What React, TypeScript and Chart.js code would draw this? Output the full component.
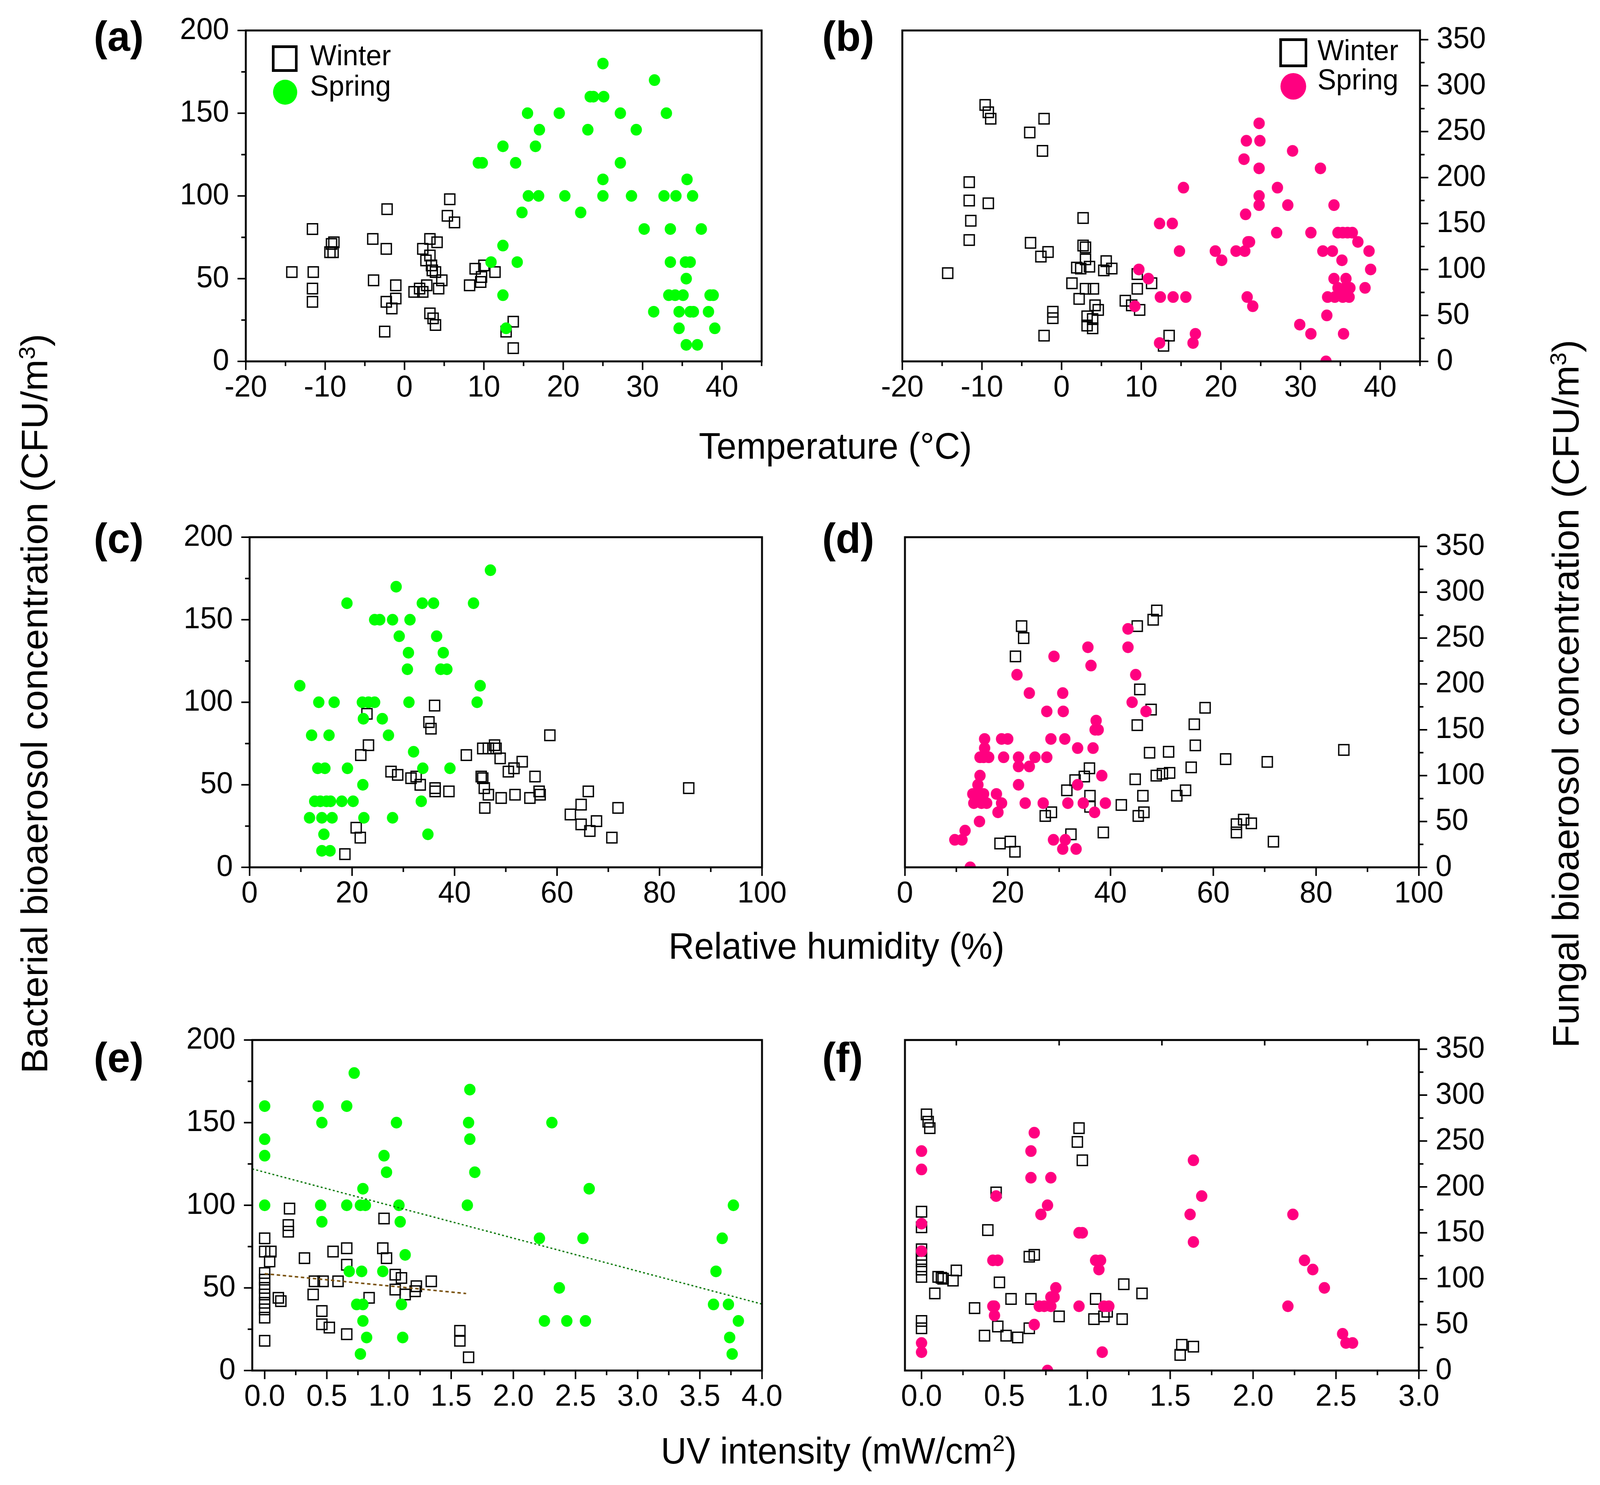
import { useEffect, useRef, useState } from "react";
import Chart from "chart.js/auto";

type Pt = [number, number];

// --- Temperature vs bacteria (a) ---
const tempWinterBac: Pt[] = [
  [-14.2, 54], [-11.6, 80], [-11.5, 54], [-11.6, 44], [-11.6, 36], [-9.4, 66], [-9.0, 66], [-9.2, 71],
  [-8.9, 72], [-4.0, 74], [-3.9, 49], [-2.3, 68], [-2.2, 92], [-2.5, 18], [-2.3, 36], [-1.6, 32],
  [-1.1, 38], [-1.1, 46], [1.2, 42], [1.9, 44], [2.3, 42], [2.3, 68], [2.7, 61], [2.8, 46],
  [3.2, 74], [3.2, 64], [3.4, 58], [3.5, 55], [3.9, 54], [4.1, 72], [4.3, 44], [4.7, 49],
  [3.2, 29], [3.6, 26], [3.9, 22], [5.7, 98], [5.4, 88], [6.3, 84], [8.2, 46], [8.9, 56],
  [9.7, 51], [9.6, 48], [10.0, 58], [11.4, 54], [12.8, 18], [13.7, 24], [13.7, 8],
];
const tempSpringBac: Pt[] = [
  [25.0, 180], [31.5, 170], [23.4, 160], [23.8, 160], [25.1, 160], [15.5, 150], [19.5, 150], [27.2, 150],
  [33.0, 150], [17.0, 140], [23.1, 140], [29.2, 140], [12.4, 130], [16.5, 130], [9.3, 120], [9.8, 120],
  [14.0, 120], [27.2, 120], [25.0, 110], [35.6, 110], [15.6, 100], [16.9, 100], [20.2, 100], [25.0, 100],
  [28.6, 100], [32.7, 100], [34.2, 100], [36.3, 100], [14.8, 90], [22.2, 90], [30.2, 80], [33.5, 80],
  [37.4, 80], [12.4, 70], [10.9, 60], [14.2, 60], [33.5, 60], [35.4, 60], [36.0, 60], [35.5, 50],
  [12.4, 40], [33.3, 40], [34.1, 40], [35.1, 40], [38.5, 40], [38.9, 40], [31.4, 30], [34.6, 30],
  [36.0, 30], [36.4, 30], [38.3, 30], [12.8, 20], [34.6, 20], [39.1, 20], [35.5, 10], [36.9, 10],
];

// --- Temperature vs fungi (b) ---
const tempWinterFun: Pt[] = [
  [-9.6, 279], [-9.2, 271], [-8.9, 264], [-2.2, 264], [-4.0, 249], [-2.4, 229], [-11.6, 195], [-11.6, 175],
  [-9.2, 172], [-11.4, 153], [-11.6, 132], [-14.3, 96], [-3.9, 129], [-1.7, 119], [-2.6, 114], [2.7, 156],
  [2.7, 126], [3.0, 124], [3.0, 111], [1.9, 102], [2.4, 101], [3.5, 103], [5.6, 109], [5.3, 99],
  [6.3, 101], [1.3, 85], [3.0, 79], [4.0, 79], [2.2, 68], [4.2, 61], [4.6, 56], [3.2, 49],
  [3.9, 46], [3.2, 39], [3.9, 36], [-1.1, 54], [-1.1, 47], [-2.2, 28], [9.5, 95], [11.3, 85],
  [9.5, 79], [8.0, 66], [8.8, 61], [9.8, 56], [13.5, 28], [12.8, 17],
];
const tempSpringFun: Pt[] = [
  [24.8, 259], [23.2, 240], [24.9, 240], [29.0, 229], [22.9, 220], [24.8, 210], [32.5, 210], [15.3, 189],
  [27.1, 189], [24.8, 180], [24.8, 170], [28.4, 170], [34.2, 170], [23.1, 160], [12.3, 150], [13.9, 150],
  [23.4, 130], [23.6, 130], [27.0, 140], [31.3, 140], [34.7, 140], [35.3, 140], [35.9, 140], [36.5, 140],
  [37.2, 130], [14.8, 120], [19.3, 120], [21.9, 120], [23.0, 120], [32.8, 120], [34.0, 120], [38.6, 120],
  [20.1, 110], [35.2, 110], [9.7, 100], [38.8, 100], [10.9, 90], [34.2, 90], [35.7, 90], [34.7, 80],
  [35.6, 80], [36.2, 80], [38.1, 80], [12.4, 70], [14.0, 70], [15.6, 70], [23.3, 70], [33.4, 70],
  [34.3, 70], [35.3, 70], [36.1, 70], [9.2, 60], [24.0, 60], [33.3, 50], [29.9, 40], [31.3, 30],
  [35.4, 30], [16.8, 30], [16.5, 20], [12.3, 20], [33.2, 0],
];

// --- Relative humidity vs bacteria (c) ---
const rhWinterBac: Pt[] = [
  [36.1, 98], [22.9, 93], [35.0, 88], [35.4, 84], [58.6, 80], [23.2, 74], [21.7, 68], [42.3, 68],
  [45.5, 72], [46.6, 72], [47.8, 74], [48.1, 72], [48.9, 66], [53.2, 64], [51.6, 60], [50.5, 58],
  [27.6, 58], [28.9, 56], [31.5, 54], [32.5, 55], [33.3, 50], [36.2, 48], [36.2, 46], [38.9, 46],
  [45.2, 55], [45.5, 54], [45.8, 48], [46.6, 44], [49.1, 42], [51.8, 44], [54.7, 42], [55.7, 55],
  [56.5, 46], [56.7, 44], [45.9, 36], [66.1, 46], [64.7, 38], [62.6, 32], [64.7, 26], [66.4, 22],
  [67.7, 28], [70.7, 18], [71.9, 36], [85.7, 48], [20.8, 24], [21.6, 18], [18.6, 8],
];
const rhSpringBac: Pt[] = [
  [47.0, 180], [28.6, 170], [19.0, 160], [33.7, 160], [35.9, 160], [43.7, 160], [24.4, 150], [25.4, 150],
  [27.9, 150], [31.3, 150], [29.2, 140], [36.5, 140], [31.0, 130], [37.8, 130], [30.8, 120], [37.3, 120],
  [38.5, 120], [9.8, 110], [45.0, 110], [13.5, 100], [16.5, 100], [22.0, 100], [23.2, 100], [24.4, 100],
  [31.1, 100], [44.4, 100], [22.2, 90], [25.9, 90], [12.1, 80], [15.5, 80], [27.1, 80], [32.0, 70],
  [13.3, 60], [14.7, 60], [19.1, 60], [33.8, 60], [39.1, 60], [22.1, 50], [12.7, 40], [13.8, 40],
  [15.0, 40], [15.8, 40], [18.0, 40], [20.2, 40], [33.5, 40], [11.7, 30], [14.1, 30], [16.1, 30],
  [22.3, 30], [27.9, 30], [14.5, 20], [34.8, 20], [14.1, 10], [15.7, 10],
];

// --- Relative humidity vs fungi (d) ---
const rhWinterFun: Pt[] = [
  [49.0, 280], [48.3, 270], [45.2, 263], [22.7, 263], [23.1, 250], [21.5, 230], [45.7, 194], [47.9, 172],
  [58.4, 174], [56.3, 156], [45.2, 155], [56.5, 133], [85.4, 128], [47.6, 125], [51.3, 126], [62.4, 118],
  [70.5, 115], [55.7, 109], [35.9, 108], [48.9, 100], [50.1, 102], [51.5, 103], [44.8, 96], [34.9, 99],
  [33.1, 95], [31.5, 84], [54.6, 84], [52.9, 78], [46.3, 78], [36.0, 78], [36.0, 66], [42.1, 68],
  [28.5, 60], [27.3, 56], [46.5, 60], [45.4, 56], [65.9, 52], [64.5, 47], [67.4, 48], [64.5, 38],
  [38.6, 38], [32.3, 36], [71.7, 28], [18.5, 26], [20.5, 28], [21.4, 17],
];
const rhSpringFun: Pt[] = [
  [43.4, 260], [35.6, 240], [43.4, 240], [29.0, 230], [36.2, 220], [21.8, 210], [44.9, 210], [24.2, 190],
  [30.7, 190], [44.2, 180], [27.6, 170], [30.8, 170], [46.9, 170], [37.2, 160], [37.0, 150], [37.6, 150],
  [15.5, 140], [18.8, 140], [20.0, 140], [28.4, 140], [31.1, 140], [15.5, 130], [33.6, 130], [36.6, 130],
  [14.6, 120], [15.3, 120], [16.3, 120], [19.2, 120], [22.1, 120], [25.3, 120], [27.6, 120], [22.1, 110],
  [24.2, 110], [14.6, 100], [38.3, 100], [22.1, 90], [14.2, 90], [33.6, 90], [13.2, 80], [14.6, 80],
  [15.3, 80], [17.8, 80], [13.4, 70], [14.9, 70], [15.9, 70], [18.8, 70], [23.4, 70], [26.9, 70],
  [31.7, 70], [34.7, 70], [39.0, 70], [18.1, 60], [36.9, 60], [14.5, 50], [11.7, 40], [9.7, 30],
  [11.1, 30], [28.9, 30], [31.2, 30], [30.7, 20], [33.3, 20], [12.7, 0],
];

// --- UV intensity vs bacteria (e) ---
const uvWinterBac: Pt[] = [
  [0.2, 98], [0.19, 88], [0.19, 84], [0, 80], [0, 72], [0.05, 72], [0.04, 66], [0, 59],
  [0, 55], [0, 50], [0, 46], [0, 41], [0, 37], [0, 32], [0, 18], [0.11, 44],
  [0.13, 42], [0.32, 68], [0.4, 54], [0.47, 54], [0.39, 46], [0.46, 36], [0.46, 28], [0.52, 26],
  [0.55, 72], [0.66, 74], [0.66, 64], [0.59, 54], [0.66, 22], [0.84, 44], [0.95, 74], [0.96, 92],
  [0.98, 68], [1.05, 58], [1.1, 56], [1.05, 49], [1.13, 46], [1.22, 51], [1.21, 48], [1.34, 54],
  [1.57, 24], [1.57, 18], [1.64, 8],
];
const uvSpringBac: Pt[] = [
  [0.72, 180], [1.65, 170], [0, 160], [0.43, 160], [0.66, 160], [0.46, 150], [1.06, 150], [1.64, 150],
  [2.31, 150], [0, 140], [1.65, 140], [0, 130], [0.96, 130], [0.98, 120], [1.69, 120], [0.79, 110],
  [2.61, 110], [0, 100], [0.45, 100], [0.66, 100], [0.77, 100], [0.81, 100], [1.08, 100], [1.63, 100],
  [3.77, 100], [0.46, 90], [1.09, 90], [2.21, 80], [2.56, 80], [3.68, 80], [1.13, 70], [0.68, 60],
  [0.78, 60], [0.95, 60], [3.63, 60], [2.37, 50], [0.74, 40], [0.79, 40], [1.1, 40], [3.61, 40],
  [3.73, 40], [0.79, 30], [2.25, 30], [2.43, 30], [2.58, 30], [3.81, 30], [0.82, 20], [1.11, 20],
  [3.74, 20], [0.77, 10], [3.76, 10],
];
// linear fits drawn in (e), end points
const uvWinterFit: Pt[] = [[0, 58.6], [1.62, 46.6]];
const uvSpringFit: Pt[] = [[-0.1, 122], [4.0, 40.2]];

// --- UV intensity vs fungi (f) ---
const uvWinterFun: Pt[] = [
  [0.03, 279], [0.04, 271], [0.05, 264], [0.95, 264], [0.94, 249], [0.97, 229], [0.45, 194], [0, 173],
  [0, 156], [0.4, 153], [0, 132], [0, 126], [0, 119], [0, 110], [0, 102], [0.65, 124],
  [0.68, 126], [0.1, 102], [0.12, 101], [0.13, 100], [0.19, 98], [0.21, 109], [0.08, 84], [0.47, 96],
  [0.32, 68], [0.54, 78], [0.66, 78], [0, 54], [0, 46], [0.46, 48], [0.38, 38], [0.51, 38],
  [0.58, 36], [0.65, 46], [0.83, 59], [1.05, 78], [1.04, 56], [1.1, 59], [1.12, 64], [1.22, 94],
  [1.21, 56], [1.33, 84], [1.57, 28], [1.56, 17], [1.64, 26],
];
const uvSpringFun: Pt[] = [
  [0.68, 259], [0, 239], [0.66, 239], [1.64, 229], [0, 219], [0.66, 210], [0.78, 210], [0.45, 190],
  [1.69, 190], [0.76, 180], [0.72, 170], [1.62, 170], [2.24, 170], [0, 160], [0.95, 150], [0.97, 150],
  [1.64, 140], [0, 130], [0.43, 120], [0.46, 120], [1.05, 120], [1.08, 120], [2.31, 120], [1.07, 110],
  [2.36, 110], [0.81, 90], [2.43, 90], [0.78, 80], [0.8, 80], [0.43, 70], [0.44, 70], [0.71, 70],
  [0.74, 70], [0.78, 70], [0.95, 70], [1.1, 70], [1.13, 70], [2.21, 70], [0.44, 60], [0.68, 50],
  [2.54, 40], [0, 30], [2.56, 30], [2.6, 30], [0, 20], [1.09, 20], [0.76, 0],
];

// --- tick labels ---
const tempTicks = [-20, -10, 0, 10, 20, 30, 40];
const rhTicks = [0, 20, 40, 60, 80, 100];
const uvBacTicks = [0, 0.5, 1, 1.5, 2, 2.5, 3, 3.5, 4];
const uvFunTicks = [0, 0.5, 1, 1.5, 2, 2.5, 3];
const bacTicks = [0, 50, 100, 150, 200];
const funTicks = [0, 50, 100, 150, 200, 250, 300, 350];
const uvFunTopTicks = [0.21, 0.83, 1.45, 2.07, 2.69];

const FONT = '"Liberation Sans", Arial, Helvetica, sans-serif';
const GREEN = "#00ff00";
const PINK = "#ff0080";
const MAJOR = 22;
const MINOR = 12;
const PAGE_W = 4231;
const PAGE_H = 3801;

type Rect = { left: number; top: number; right: number; bottom: number };

interface PanelCfg {
  plot: Rect;
  side: "left" | "right";
  xMin: number;
  xMax: number;
  xTicks: number[];
  xDecimals: number;
  yMax: number;
  yTicks: number[];
  winter: Pt[];
  spring: Pt[];
  springColor: string;
  winterFit?: Pt[];
  springFit?: Pt[];
  topTicks?: number[];
}

const minorOf = (major: number[], min: number, max: number) => {
  const half = (major[1] - major[0]) / 2;
  const out: number[] = [];
  for (let v = major[0] - half; v <= max + 1e-9; v += 2 * half) {
    if (v >= min - 1e-9 && !major.some(m => Math.abs(m - v) < 1e-9)) out.push(v);
  }
  return out;
};

const toXY = (pts: Pt[]) => pts.map(([x, y]) => ({ x, y }));

// frame + outward tick marks (major and minor)
const framePlugin = {
  id: "panelFrame",
  afterDraw(chart: any, _args: any, opts: any) {
    const { ctx, chartArea: a, scales } = chart;
    const xs = scales.x;
    const ys = scales.y;
    ctx.save();
    ctx.strokeStyle = "#000";
    ctx.lineWidth = 5;
    ctx.strokeRect(a.left, a.top, a.right - a.left, a.bottom - a.top);
    ctx.lineWidth = 4;
    ctx.beginPath();
    const mark = (px: number, py: number, dx: number, dy: number) => {
      ctx.moveTo(px, py);
      ctx.lineTo(px + dx, py + dy);
    };
    xs.ticks.forEach((t: any) => mark(xs.getPixelForValue(t.value), a.bottom, 0, MAJOR));
    (opts.xMinor || []).forEach((v: number) => mark(xs.getPixelForValue(v), a.bottom, 0, MINOR));
    const edge = opts.side === "left" ? a.left : a.right;
    const dir = opts.side === "left" ? -1 : 1;
    ys.ticks.forEach((t: any) => mark(edge, ys.getPixelForValue(t.value), dir * MAJOR, 0));
    (opts.yMinor || []).forEach((v: number) => mark(edge, ys.getPixelForValue(v), dir * MINOR, 0));
    (opts.topTicks || []).forEach((v: number) => mark(xs.getPixelForValue(v), a.top, 0, 14));
    ctx.stroke();
    ctx.restore();
  },
};

const Y_AXIS_W = 320;
const X_AXIS_H = 160;
const PAD_TOP = 60;
const PAD_SIDE = 90;

function Panel({ cfg }: { cfg: PanelCfg }) {
  const chartRef = useRef<HTMLCanvasElement | null>(null);
  const { plot, side } = cfg;
  const plotW = plot.right - plot.left;
  const plotH = plot.bottom - plot.top;
  const left = side === "left" ? plot.left - Y_AXIS_W : plot.left - PAD_SIDE;
  const width = plotW + Y_AXIS_W + PAD_SIDE;
  const height = plotH + PAD_TOP + X_AXIS_H;

  useEffect(() => {
    if (!chartRef.current) return;
    const tickFont = { family: FONT, size: 78 };
    const datasets: any[] = [];
    if (cfg.springFit) {
      datasets.push({
        data: toXY(cfg.springFit),
        showLine: true,
        borderColor: "#0c7a0c",
        borderWidth: 3.5,
        borderDash: [5, 6],
        pointRadius: 0,
        order: 0,
      });
    }
    if (cfg.winterFit) {
      datasets.push({
        data: toXY(cfg.winterFit),
        showLine: true,
        borderColor: "#7a5210",
        borderWidth: 4,
        borderDash: [9, 7],
        pointRadius: 0,
        order: 0,
      });
    }
    datasets.push({
      label: "Spring",
      data: toXY(cfg.spring),
      pointStyle: "circle",
      pointRadius: 15,
      pointBorderWidth: 0,
      pointBackgroundColor: cfg.springColor,
      pointBorderColor: cfg.springColor,
      clip: 0,
      order: 1,
    });
    datasets.push({
      label: "Winter",
      data: toXY(cfg.winter),
      pointStyle: "rect",
      pointRadius: 19,
      pointBorderWidth: 3.5,
      pointBorderColor: "#000",
      pointBackgroundColor: "rgba(0,0,0,0)",
      clip: 0,
      order: 2,
    });

    const chart = new Chart(chartRef.current, {
      type: "scatter",
      data: { datasets },
      options: {
        animation: false,
        responsive: true,
        maintainAspectRatio: false,
        events: [],
        layout: {
          autoPadding: false,
          padding: {
            top: PAD_TOP,
            bottom: 0,
            left: side === "left" ? 0 : PAD_SIDE,
            right: side === "left" ? PAD_SIDE : 0,
          },
        },
        plugins: {
          legend: { display: false },
          tooltip: { enabled: false },
          panelFrame: {
            side,
            xMinor: minorOf(cfg.xTicks, cfg.xMin, cfg.xMax),
            yMinor: minorOf(cfg.yTicks, 0, cfg.yMax),
            topTicks: cfg.topTicks,
          },
        } as any,
        scales: {
          x: {
            type: "linear",
            position: "bottom",
            min: cfg.xMin,
            max: cfg.xMax,
            grid: { display: false, drawTicks: false },
            border: { display: false },
            afterBuildTicks: (s: any) => {
              s.ticks = cfg.xTicks.map(v => ({ value: v }));
            },
            afterFit: (s: any) => {
              s.height = X_AXIS_H;
              s.paddingLeft = 0;
              s.paddingRight = 0;
            },
            ticks: {
              font: tickFont,
              color: "#000",
              padding: 22,
              maxRotation: 0,
              autoSkip: false,
              callback: (v: any) => Number(v).toFixed(cfg.xDecimals),
            },
          },
          y: {
            type: "linear",
            position: side,
            min: 0,
            max: cfg.yMax,
            grid: { display: false, drawTicks: false },
            border: { display: false },
            afterBuildTicks: (s: any) => {
              s.ticks = cfg.yTicks.map(v => ({ value: v }));
            },
            afterFit: (s: any) => {
              s.width = Y_AXIS_W;
              s.paddingTop = 0;
              s.paddingBottom = 0;
            },
            ticks: {
              font: tickFont,
              color: "#000",
              padding: 44,
              autoSkip: false,
              callback: (v: any) => String(v),
            },
          },
        },
      },
      plugins: [framePlugin],
    } as any);

    return () => {
      chart.destroy();
    };
  }, [cfg]);

  return (
    <div style={{ position: "absolute", left, top: plot.top - PAD_TOP, width, height }}>
      <canvas ref={chartRef} />
    </div>
  );
}

const panels: PanelCfg[] = [
  {
    plot: { left: 650, top: 78, right: 2014, bottom: 925 },
    side: "left", xMin: -20, xMax: 45, xTicks: tempTicks, xDecimals: 0,
    yMax: 200, yTicks: bacTicks, winter: tempWinterBac, spring: tempSpringBac, springColor: GREEN,
  },
  {
    plot: { left: 2386, top: 78, right: 3755, bottom: 925 },
    side: "right", xMin: -20, xMax: 45, xTicks: tempTicks, xDecimals: 0,
    yMax: 360, yTicks: funTicks, winter: tempWinterFun, spring: tempSpringFun, springColor: PINK,
  },
  {
    plot: { left: 660, top: 1375, right: 2015, bottom: 2220 },
    side: "left", xMin: 0, xMax: 100, xTicks: rhTicks, xDecimals: 0,
    yMax: 200, yTicks: bacTicks, winter: rhWinterBac, spring: rhSpringBac, springColor: GREEN,
  },
  {
    plot: { left: 2393, top: 1375, right: 3752, bottom: 2220 },
    side: "right", xMin: 0, xMax: 100, xTicks: rhTicks, xDecimals: 0,
    yMax: 360, yTicks: funTicks, winter: rhWinterFun, spring: rhSpringFun, springColor: PINK,
  },
  {
    plot: { left: 667, top: 2662, right: 2015, bottom: 3508 },
    side: "left", xMin: -0.1, xMax: 4.0, xTicks: uvBacTicks, xDecimals: 1,
    yMax: 200, yTicks: bacTicks, winter: uvWinterBac, spring: uvSpringBac, springColor: GREEN,
    winterFit: uvWinterFit, springFit: uvSpringFit,
  },
  {
    plot: { left: 2393, top: 2662, right: 3752, bottom: 3508 },
    side: "right", xMin: -0.1, xMax: 3.0, xTicks: uvFunTicks, xDecimals: 1,
    yMax: 360, yTicks: funTicks, winter: uvWinterFun, spring: uvSpringFun, springColor: PINK,
    topTicks: uvFunTopTicks,
  },
];

// text placed by its baseline
function Txt({ x, y, size, bold, center, children }: {
  x: number; y: number; size: number; bold?: boolean; center?: boolean; children: React.ReactNode;
}) {
  return (
    <div
      style={{
        position: "absolute",
        left: x,
        top: y - 0.8465 * size,
        fontSize: size,
        lineHeight: `${size}px`,
        fontFamily: FONT,
        fontWeight: bold ? 700 : 400,
        whiteSpace: "nowrap",
        color: "#000",
        transform: center ? "translateX(-50%)" : undefined,
      }}
    >
      {children}
    </div>
  );
}

function VTitle({ cx, cy, size, children }: { cx: number; cy: number; size: number; children: React.ReactNode }) {
  return (
    <div
      style={{
        position: "absolute",
        left: cx,
        top: cy,
        fontSize: size,
        lineHeight: `${size}px`,
        fontFamily: FONT,
        whiteSpace: "nowrap",
        color: "#000",
        transform: "translate(-50%, -50%) rotate(-90deg)",
      }}
    >
      {children}
    </div>
  );
}

const Sup = ({ children }: { children: React.ReactNode }) => (
  <sup style={{ fontSize: "0.62em", lineHeight: 0, verticalAlign: "0.55em" }}>{children}</sup>
);

function Legend({ sx, sy, ss, cx, cy, cd, tx, b1, b2, color }: {
  sx: number; sy: number; ss: number; cx: number; cy: number; cd: number;
  tx: number; b1: number; b2: number; color: string;
}) {
  return (
    <>
      <div
        style={{
          position: "absolute", left: sx - ss / 2, top: sy - ss / 2, width: ss, height: ss,
          border: "7px solid #000", boxSizing: "border-box",
        }}
      />
      <div
        style={{
          position: "absolute", left: cx - cd / 2, top: cy - cd / 2, width: cd, height: cd,
          borderRadius: "50%", background: color,
        }}
      />
      <Txt x={tx} y={b1} size={74}>Winter</Txt>
      <Txt x={tx} y={b2} size={74}>Spring</Txt>
    </>
  );
}

export default function App() {
  // fit the 4231x3801 layout into whatever viewport the page really has
  const [fit, setFit] = useState({ x: 1, y: 1 });
  useEffect(() => {
    document.body.style.margin = "0";
    document.documentElement.style.overflow = "hidden";
    const w = document.documentElement.clientWidth || window.innerWidth;
    const h = document.documentElement.clientHeight || window.innerHeight;
    setFit({ x: w / PAGE_W, y: h / PAGE_H });
  }, []);

  return (
    <div
      style={{
        position: "absolute",
        left: 0,
        top: 0,
        width: PAGE_W,
        height: PAGE_H,
        background: "#fff",
        overflow: "hidden",
        transformOrigin: "0 0",
        transform: `scale(${fit.x}, ${fit.y})`,
      }}
    >
      {panels.map((p, i) => (
        <Panel key={i} cfg={p} />
      ))}
      <Txt x={248} y={130} size={108} bold>(a)</Txt>
      <Txt x={2174} y={130} size={108} bold>(b)</Txt>
      <Txt x={248} y={1415} size={108} bold>(c)</Txt>
      <Txt x={2174} y={1415} size={108} bold>(d)</Txt>
      <Txt x={248} y={2744} size={108} bold>(e)</Txt>
      <Txt x={2174} y={2744} size={108} bold>(f)</Txt>

      <Legend sx={753} sy={150} ss={68} cx={754} cy={236} cd={64} tx={820} b1={168} b2={246} color={GREEN} />
      <Legend sx={3420} sy={135} ss={74} cx={3420} cy={221} cd={68} tx={3484} b1={155} b2={230} color={PINK} />

      <Txt x={2209} y={1175} size={94} center>Temperature (°C)</Txt>
      <Txt x={2212} y={2455} size={94} center>Relative humidity (%)</Txt>
      <Txt x={2218} y={3747} size={94} center>
        UV intensity (mW/cm<Sup>2</Sup>)
      </Txt>

      <VTitle cx={91} cy={1801} size={97}>
        Bacterial bioaerosol concentration (CFU/m<Sup>3</Sup>)
      </VTitle>
      <VTitle cx={4141} cy={1776} size={97}>
        Fungal bioaerosol concentration (CFU/m<Sup>3</Sup>)
      </VTitle>
    </div>
  );
}
